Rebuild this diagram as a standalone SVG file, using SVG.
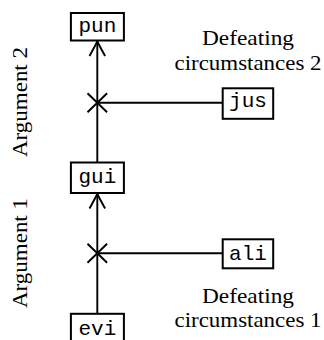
<svg xmlns="http://www.w3.org/2000/svg" width="324" height="340" viewBox="0 0 324 340">
<style>
.box{fill:#fff;stroke:#000;stroke-width:2}
.mono{font-family:"Liberation Mono","DejaVu Sans Mono",monospace;font-size:21px;fill:#000;text-anchor:middle}
.serif{font-family:"Liberation Serif","DejaVu Serif",serif;font-size:21.5px;fill:#000;text-anchor:middle}
.ln{fill:none;stroke:#000;stroke-width:1.9}
</style>
<rect width="324" height="340" fill="#fff"/>
<g id="connectors">
  <line class="ln" x1="97.3" y1="41" x2="97.3" y2="162.5"/>
  <path class="ln" d="M89.5 56 Q94.5 47 97.3 41.5 Q100.1 47 105.1 56"/>
  <line class="ln" x1="97.3" y1="102.7" x2="222.7" y2="102.7"/>
  <path class="ln" d="M87.5 93.2 L107.1 112.3 M87.5 112.3 L107.1 93.2"/>
  <line class="ln" x1="97.3" y1="193.5" x2="97.3" y2="314"/>
  <path class="ln" d="M89.5 208.5 Q94.5 199.5 97.3 194 Q100.1 199.5 105.1 208.5"/>
  <line class="ln" x1="97.3" y1="253.3" x2="222.7" y2="253.3"/>
  <path class="ln" d="M87.5 243.7 L107.1 262.8 M87.5 262.8 L107.1 243.7"/>
</g>
<g id="pun">
  <rect class="box" x="70.9" y="13" width="53" height="27.5"/>
  <text class="mono" x="97.4" y="32">pun</text>
</g>
<g id="jus">
  <rect class="box" x="222.7" y="88.3" width="50.5" height="30.5"/>
  <text class="mono" x="248" y="107">jus</text>
</g>
<g id="gui">
  <rect class="box" x="70.9" y="162.5" width="53" height="30.5"/>
  <text class="mono" x="97.4" y="183">gui</text>
</g>
<g id="ali">
  <rect class="box" x="222.7" y="239.3" width="50.5" height="29"/>
  <text class="mono" x="248" y="260">ali</text>
</g>
<g id="evi">
  <rect class="box" x="70.9" y="313.8" width="53" height="34"/>
  <text class="mono" x="97.4" y="335">evi</text>
</g>
<g id="label-def2">
  <text class="serif" x="248" y="45" textLength="92" lengthAdjust="spacingAndGlyphs">Defeating</text>
  <text class="serif" x="248" y="70" textLength="147" lengthAdjust="spacingAndGlyphs">circumstances 2</text>
</g>
<g id="label-def1">
  <text class="serif" x="248" y="302.5" textLength="92" lengthAdjust="spacingAndGlyphs">Defeating</text>
  <text class="serif" x="248" y="327" textLength="147" lengthAdjust="spacingAndGlyphs">circumstances 1</text>
</g>
<g id="label-arg2">
  <text class="serif" transform="translate(26.5,102) rotate(-90)" textLength="110" lengthAdjust="spacingAndGlyphs">Argument 2</text>
</g>
<g id="label-arg1">
  <text class="serif" transform="translate(26.5,253) rotate(-90)" textLength="110" lengthAdjust="spacingAndGlyphs">Argument 1</text>
</g>
</svg>
